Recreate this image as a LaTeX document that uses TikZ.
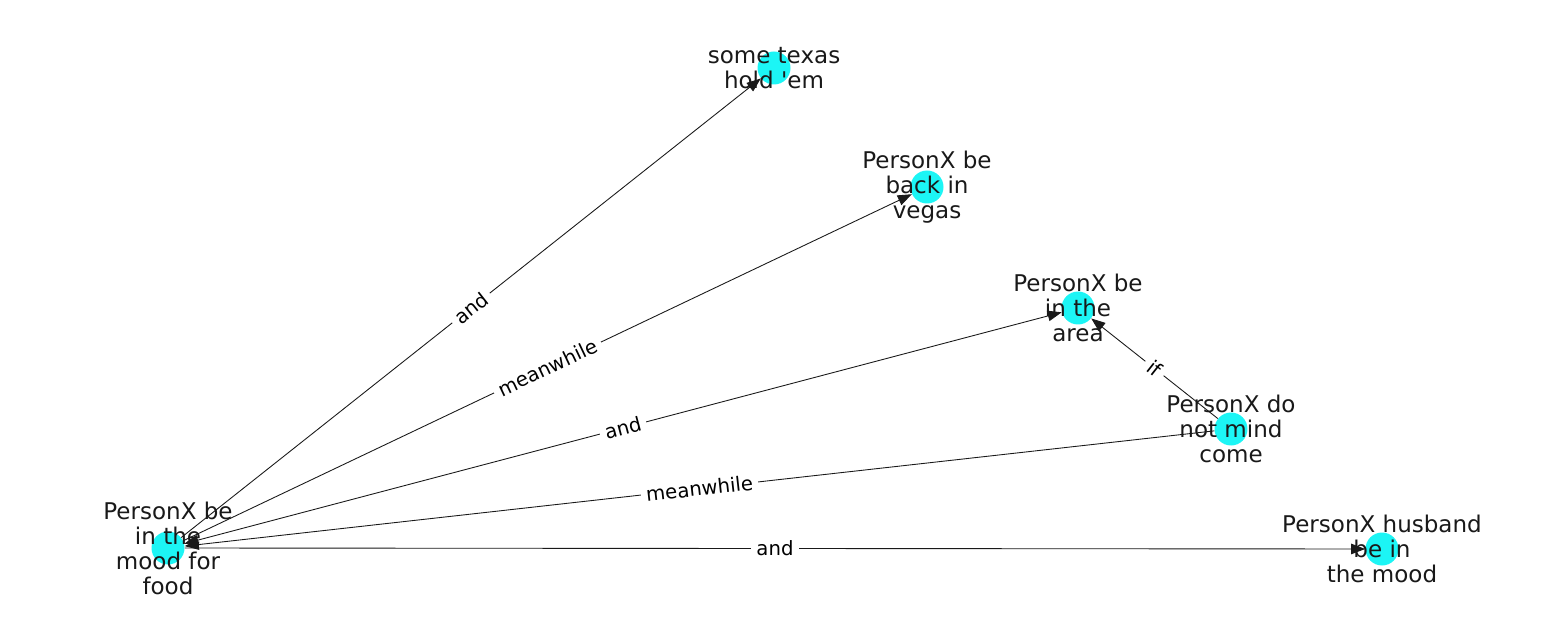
\documentclass[tikz,border=0pt]{standalone}
\usepackage{fontspec}
\setmainfont{DejaVu Sans}
\usetikzlibrary{arrows.meta}

\definecolor{nodecyan}{HTML}{1CF5F5}
\tikzstyle{ent} = [circle, fill=nodecyan, minimum size=0.66cm, inner sep=0pt]
\tikzstyle{txt} = [align=center, text=black!90, font=\fontsize{13.1}{14.2}\selectfont]
\tikzstyle{rel} = [draw=black!90, line width=0.5pt, -{Triangle[length=8pt,width=6pt]}]
\tikzstyle{lbl} = [midway, sloped, fill=white, inner sep=3pt, font=\fontsize{11.2}{12}\selectfont]

\begin{document}
\begin{tikzpicture}
\useasboundingbox (0,0) rectangle (31,12.32);
%knopen
\node[ent] (food) at (3.36,1.36) {};
\node[ent] (texas) at (15.48,10.96) {};
\node[ent] (vegas) at (18.54,8.58) {};
\node[ent] (area) at (21.56,6.16) {};
\node[ent] (come) at (24.62,3.74) {};
\node[ent] (husband) at (27.64,1.34) {};
%begin relaties
\draw[rel] (food) -- (texas) node[lbl] {and};
\draw[rel] (food) -- (vegas) node[lbl] {meanwhile};
\draw[rel, {Triangle[length=8pt,width=6pt]}-{Triangle[length=8pt,width=6pt]}] (food) -- (area) node[lbl] {and};
\draw[rel] (come) -- (food) node[lbl] {meanwhile};
\draw[rel] (come) -- (area) node[lbl] {if};
\draw[rel] (food) -- (husband) node[lbl] {and};
%end relaties
%begin teksten
\node[txt] (tfood) at (food) {PersonX be\\in the\\mood for\\food};
\node[txt] (ttexas) at (texas) {some texas\\hold \textquotesingle em};
\node[txt] (tvegas) at (vegas) {PersonX be\\back in\\vegas};
\node[txt] (tarea) at (area) {PersonX be\\in the\\area};
\node[txt] (tcome) at (come) {PersonX do\\not mind\\come};
\node[txt] (thusband) at (husband) {PersonX husband\\be in\\the mood};
%end teksten
\end{tikzpicture}
\end{document}
